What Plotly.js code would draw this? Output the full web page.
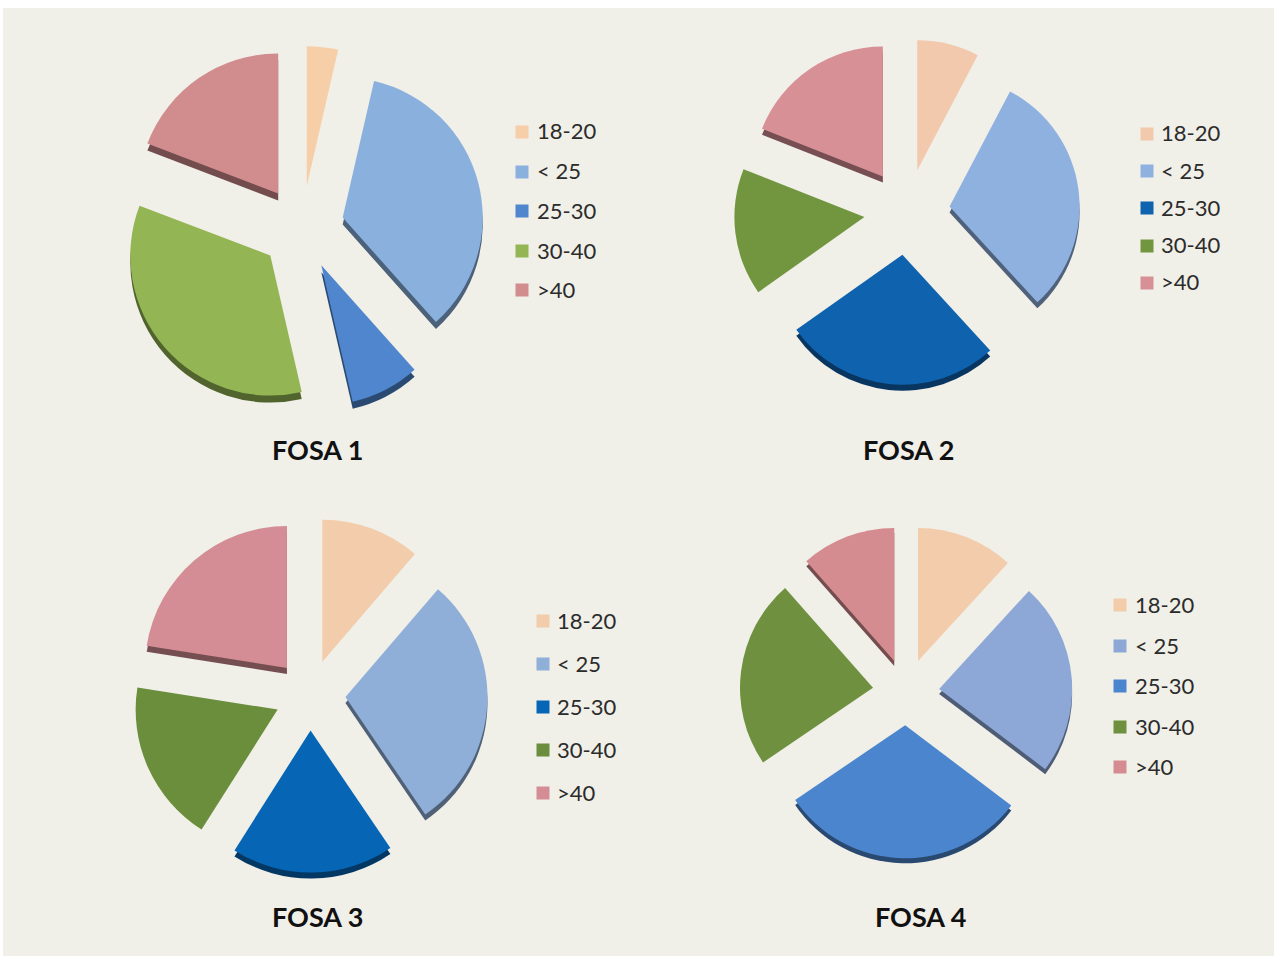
<!DOCTYPE html>
<html>
<head>
<meta charset="utf-8">
<script src="https://cdn.plot.ly/plotly-3.0.1.min.js"></script>
<style>html,body{margin:0;padding:0;background:#fff;overflow:hidden}#chart{width:1274px;height:956px}</style>
</head>
<body>
<div id="chart"></div>
<script>
const categories = ["18-20", "< 25", "25-30", "30-40", ">40"];
const chartNames = ["FOSA 1", "FOSA 2", "FOSA 3", "FOSA 4"];

const fosa1Values = [3.6, 34.8, 8, 34.4, 19.2];
const fosa2Values = [7.7, 30.5, 27, 15.8, 19];
const fosa3Values = [11.3, 29.2, 18.5, 18.5, 22.5];
const fosa4Values = [11.8, 23.5, 30.2, 23, 11.5];

const fosa1Colors = ["#F6CFA8", "#8AB0DE", "#4F86CE", "#93B553", "#D18C8E"];
const fosa2Colors = ["#F2C9AD", "#8FB1E0", "#0F62AE", "#72963F", "#D89097"];
const fosa3Colors = ["#F3CCAB", "#8FAED8", "#0765B5", "#6B8E3C", "#D48D94"];
const fosa4Colors = ["#F3CCAB", "#8DA8D6", "#4A85CD", "#6F913F", "#D58C90"];

const W = 1274, H = 956;
const bg = "#F0EFE8";
const fontFam = "Lato, 'Open Sans', sans-serif";

// pixel layout of each panel: centre, radius, pull, rim depth, slices with no visible rim, legend anchor, title
const panels = [
  {values: fosa1Values, colors: fosa1Colors, cx: 302, cy: 228, r: 140, pull: 0.30, depth: 7, noRim: [0],
   swX: 522, txtX: 536, rows: [132, 172, 211, 251, 290], titleX: 317, titleY: 450},
  {values: fosa2Values, colors: fosa2Colors, cx: 907, cy: 212, r: 130, pull: 0.33, depth: 6, noRim: [0, 3],
   swX: 1147, txtX: 1160, rows: [134, 171, 208, 246, 283], titleX: 909, titleY: 450},
  {values: fosa3Values, colors: fosa3Colors, cx: 310, cy: 695, r: 142, pull: 0.25, depth: 6, noRim: [0, 3],
   swX: 543, txtX: 556, rows: [621, 664, 707, 750, 793], titleX: 317, titleY: 917},
  {values: fosa4Values, colors: fosa4Colors, cx: 906, cy: 692, r: 133, pull: 0.25, depth: 5, noRim: [0, 3],
   swX: 1120, txtX: 1134, rows: [605, 646, 686, 727, 767], titleX: 920, titleY: 917}
];

function darker(hex, k) {
  const n = parseInt(hex.slice(1), 16);
  const c = [(n >> 16) & 255, (n >> 8) & 255, n & 255].map(v => Math.round(v * k));
  return "rgb(" + c.join(",") + ")";
}
const px = x => x / W;
const py = y => 1 - y / H;

function pie(p, dy, colors, i, isRim) {
  const half = p.r * (1 + p.pull);
  return {
    type: "pie", sort: false, direction: "clockwise", rotation: 0,
    labels: categories, values: p.values, pull: p.pull,
    marker: {colors: colors, line: {width: 0}},
    textinfo: "none", showlegend: false,
    hoverinfo: isRim ? "skip" : "label+percent",
    name: chartNames[i],
    domain: {x: [px(p.cx - half), px(p.cx + half)], y: [py(p.cy + dy + half), py(p.cy + dy - half)]}
  };
}

const traces = [];
const shapes = [{type: "rect", xref: "paper", yref: "paper", layer: "below",
  x0: px(3), x1: 1, y0: 0, y1: py(8), fillcolor: bg, line: {width: 0}}];
const annotations = [];

panels.forEach((p, i) => {
  const rimColors = p.colors.map((c, j) => p.noRim.includes(j) ? "rgba(0,0,0,0)" : darker(c, 0.55));
  traces.push(pie(p, p.depth, rimColors, i, true));
  traces.push(pie(p, 0, p.colors, i, false));
  categories.forEach((cat, j) => {
    const s = 6.5;
    shapes.push({type: "rect", xref: "paper", yref: "paper", layer: "above",
      x0: px(p.swX - s), x1: px(p.swX + s), y0: py(p.rows[j] + s), y1: py(p.rows[j] - s),
      fillcolor: p.colors[j], line: {width: 0}});
    annotations.push({xref: "paper", yref: "paper", x: px(p.txtX - 1), y: py(p.rows[j] - 1),
      xanchor: "left", yanchor: "middle", showarrow: false, text: cat.replace("<", "&lt;"),
      font: {family: fontFam, size: 22, color: "#2b2b2b"}});
  });
  annotations.push({xref: "paper", yref: "paper", x: px(p.titleX), y: py(p.titleY - 1),
    xanchor: "center", yanchor: "middle", showarrow: false, text: "<b>" + chartNames[i] + "</b>",
    font: {family: fontFam, size: 27, color: "#111"}});
});

Plotly.newPlot("chart", traces, {
  width: W, height: H,
  margin: {l: 0, r: 0, t: 0, b: 0},
  paper_bgcolor: "#fff", plot_bgcolor: "rgba(0,0,0,0)",
  showlegend: false, shapes: shapes, annotations: annotations
}, {displayModeBar: false});
</script>
</body>
</html>
